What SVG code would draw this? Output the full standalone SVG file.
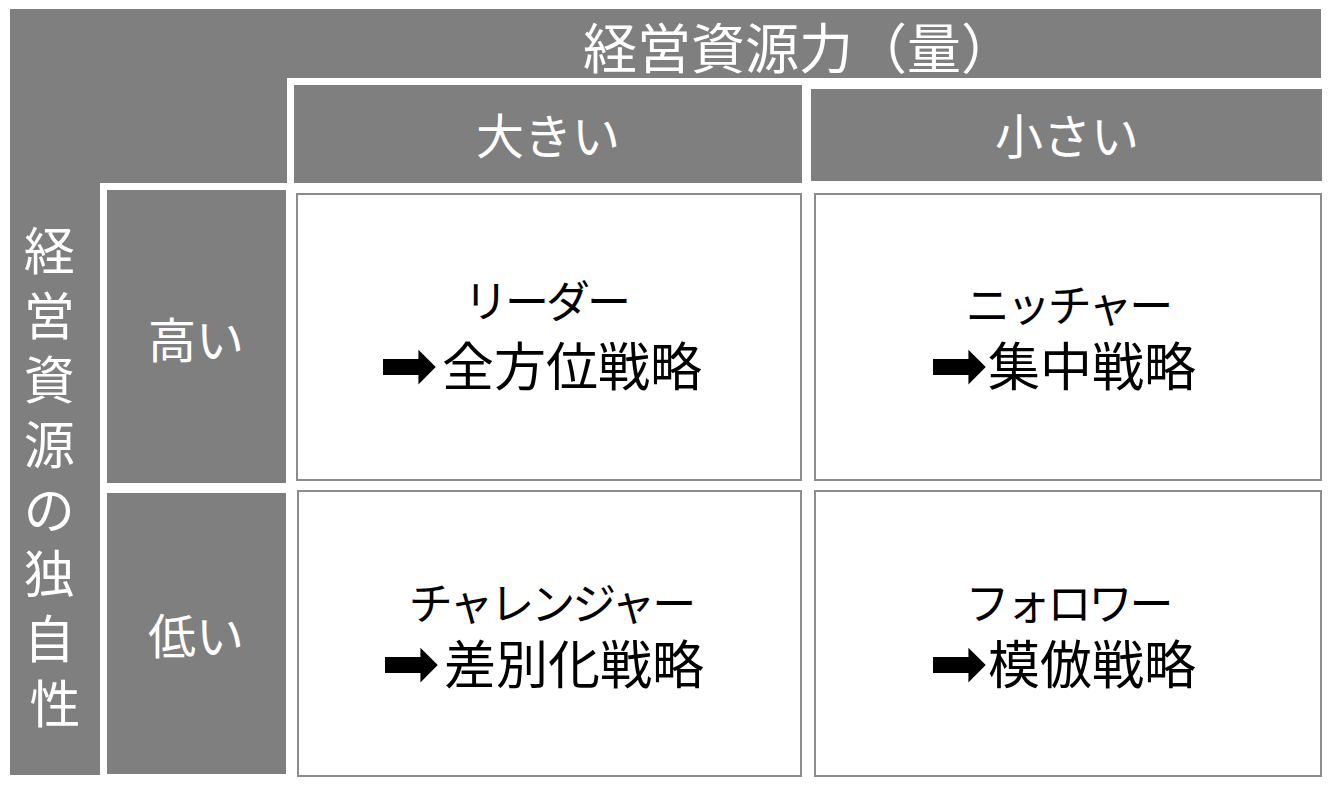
<svg xmlns="http://www.w3.org/2000/svg" width="1336" height="790" viewBox="0 0 1336 790">
<style>
.g{fill:#7f7f7f}
.cell{fill:#ffffff;stroke:#8c8c8c;stroke-width:2}
text{font-family:"Noto Sans CJK JP","Noto Sans CJK SC",sans-serif}
.w{fill:#ffffff}
.hdr{font-size:48px;text-anchor:middle}
.ttl{font-size:54px}
.vt{font-size:51px;text-anchor:middle}
.b{fill:#000000;font-size:52px}
.l1{text-anchor:middle;font-size:44px;letter-spacing:-3px}
.arr{font-family:"DejaVu Sans",sans-serif;font-size:70px}
</style>
<rect x="0" y="0" width="1336" height="790" fill="#ffffff"/>
<g id="axis-top">
<path class="g" d="M10,9 H1321 V78 H287 V183 H100 V775 H10 Z"/>
<text class="w ttl" x="583" y="69">経営資源力（量）</text>
</g>
<g id="axis-left">
<text class="w vt">
<tspan x="55" y="270">経</tspan>
<tspan x="55" y="335">営</tspan>
<tspan x="55" y="399">資</tspan>
<tspan x="55" y="464">源</tspan>
<tspan x="55" y="529">の</tspan>
<tspan x="55" y="593">独</tspan>
<tspan x="55" y="658">自</tspan>
<tspan x="55" y="723">性</tspan>
</text>
</g>
<g id="col-large">
<rect class="g" x="294" y="85" width="508" height="98"/>
<text class="w hdr" x="548" y="154">大きい</text>
</g>
<g id="col-small">
<rect class="g" x="811" y="89" width="511" height="92"/>
<text class="w hdr" x="1067" y="154">小さい</text>
</g>
<g id="row-high">
<rect class="g" x="107" y="190" width="179" height="293"/>
<text class="w hdr" x="196" y="358">高い</text>
</g>
<g id="row-low">
<rect class="g" x="107" y="493" width="179" height="281"/>
<text class="w hdr" x="196" y="654">低い</text>
</g>
<g id="leader">
<rect class="cell" x="297" y="194" width="504" height="286"/>
<text class="b l1" x="546" y="318">リーダー</text>
<text class="b"><tspan class="arr" x="379" y="389">➡︎</tspan><tspan x="442" y="386">全方位戦略</tspan></text>
</g>
<g id="nicher">
<rect class="cell" x="815" y="194" width="506" height="286"/>
<text class="b l1" x="1068" y="322">ニッチャー</text>
<text class="b"><tspan class="arr" x="929" y="389">➡︎</tspan><tspan x="988" y="386">集中戦略</tspan></text>
</g>
<g id="challenger">
<rect class="cell" x="298" y="491" width="503" height="285"/>
<text class="b l1" x="551" y="620">チャレンジャー</text>
<text class="b"><tspan class="arr" x="381" y="687">➡︎</tspan><tspan x="444" y="684">差別化戦略</tspan></text>
</g>
<g id="follower">
<rect class="cell" x="815" y="491" width="506" height="285"/>
<text class="b l1" x="1068" y="620">フォロワー</text>
<text class="b"><tspan class="arr" x="929" y="687">➡︎</tspan><tspan x="988" y="684">模倣戦略</tspan></text>
</g>
<g id="connectors"></g>
</svg>
